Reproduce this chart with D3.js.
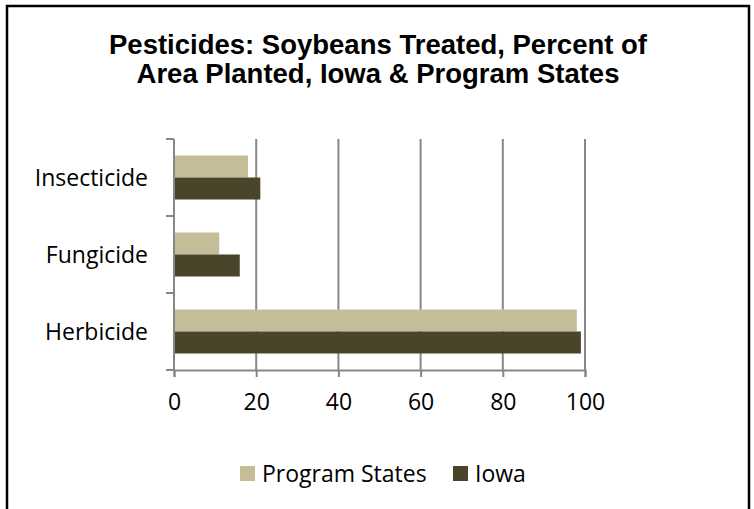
<!DOCTYPE html>
<html>
<head>
<meta charset="utf-8">
<script src="https://cdn.jsdelivr.net/npm/d3@7"></script>
<style>
  body { margin: 0; background: #fff; }
  svg { display: block; }
</style>
</head>
<body>
<div id="chart"></div>
<script>
// data
var categories = ["Insecticide", "Fungicide", "Herbicide"]
var series = ["Program States", "Iowa"]
var programStates = [18, 11, 98]
var iowa = [21, 16, 99]
var xTicks = [0, 20, 40, 60, 80, 100]
var colors = ["#c4bd97", "#4a452a"]

var W = 754, H = 509
// margin (window.top is read-only, so own names)
var mLeft = 174, mTop = 139, plotW = 411, plotH = 231

var svg = d3.select("#chart").append("svg")
  .attr("width", W)
  .attr("height", H)

// outer frame
svg.append("rect")
  .attr("x", 7).attr("y", 6)
  .attr("width", 742).attr("height", 530)
  .attr("fill", "none")
  .attr("stroke", "#000")
  .attr("stroke-width", 2.5)

// title
var title = svg.append("text")
  .attr("text-anchor", "middle")
  .attr("font-family", "Liberation Sans, Arial, sans-serif")
  .attr("font-weight", "bold")
  .attr("font-size", 27.5)
  .attr("fill", "#000")
title.append("tspan").attr("x", 378).attr("y", 54).text("Pesticides: Soybeans Treated, Percent of")
title.append("tspan").attr("x", 378).attr("y", 83).text("Area Planted, Iowa & Program States")

var g = svg.append("g").attr("transform", "translate(" + mLeft + "," + mTop + ")")

// scales
var x = d3.scaleLinear().domain([0, 100]).range([0, plotW])
var y = d3.scaleBand().domain(categories).range([0, plotH]).paddingInner(0).paddingOuter(0)
var ySub = d3.scaleBand().domain(series).range([0, y.bandwidth()]).paddingInner(0).paddingOuter(0.75)

var gridColor = "#878787"

// vertical gridlines
g.selectAll(".grid").data(xTicks.slice(1)).enter().append("line")
  .attr("class", "grid")
  .attr("x1", d => x(d)).attr("x2", d => x(d))
  .attr("y1", 0).attr("y2", plotH)
  .attr("stroke", gridColor)
  .attr("stroke-width", 2)

// bars
var rows = categories.map((c, i) => ({ cat: c, vals: [programStates[i], iowa[i]] }))
var groups = g.selectAll(".cat").data(rows).enter().append("g")
  .attr("transform", d => "translate(0," + y(d.cat) + ")")

groups.selectAll("rect").data(d => d.vals.map((v, j) => ({ s: series[j], v: v, j: j })))
  .enter().append("rect")
  .attr("x", x(0))
  .attr("y", d => ySub(d.s))
  .attr("width", d => x(d.v) - x(0))
  .attr("height", ySub.bandwidth())
  .attr("fill", d => colors[d.j])

// x axis
var xAxis = g.append("g").attr("transform", "translate(0," + plotH + ")")
  .call(d3.axisBottom(x).tickValues(xTicks).tickSize(7).tickPadding(17))
xAxis.select(".domain").attr("stroke", gridColor).attr("stroke-width", 2)
xAxis.selectAll(".tick line").attr("stroke", gridColor).attr("stroke-width", 2)
xAxis.selectAll("text")
  .attr("font-family", "Open Sans, sans-serif")
  .attr("font-size", 23)
  .attr("fill", "#000")

// y axis: ticks at band boundaries
var yAxis = g.append("g")
yAxis.append("line")
  .attr("x1", 0).attr("x2", 0).attr("y1", 0).attr("y2", plotH)
  .attr("stroke", gridColor).attr("stroke-width", 2)
var bounds = categories.map(c => y(c)).concat([plotH])
yAxis.selectAll(".yt").data(bounds).enter().append("line")
  .attr("x1", -8).attr("x2", 0)
  .attr("y1", d => d).attr("y2", d => d)
  .attr("stroke", gridColor).attr("stroke-width", 2)
yAxis.selectAll(".yl").data(categories).enter().append("text")
  .attr("x", -26)
  .attr("y", d => y(d) + y.bandwidth() / 2)
  .attr("dy", "0.35em")
  .attr("text-anchor", "end")
  .attr("font-family", "Open Sans, sans-serif")
  .attr("font-size", 23)
  .attr("fill", "#000")
  .text(d => d)

// legend
var legendX = [240, 453]
var legend = svg.selectAll(".leg").data(series).enter().append("g")
  .attr("transform", (d, i) => "translate(" + legendX[i] + ",466)")
legend.append("rect")
  .attr("width", 15).attr("height", 15)
  .attr("fill", (d, i) => colors[i])
legend.append("text")
  .attr("x", 22).attr("y", 16)
  .attr("font-family", "Open Sans, sans-serif")
  .attr("font-size", 23)
  .attr("fill", "#000")
  .text(d => d)
</script>
</body>
</html>
